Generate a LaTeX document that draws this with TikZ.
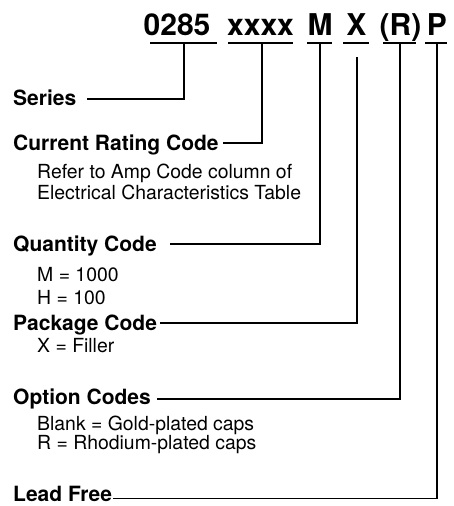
\documentclass[tikz,border=0pt]{standalone}
\usepackage{fontspec}
\setmainfont{TeX Gyre Heros}
\begin{document}
\begin{tikzpicture}[x=1pt,y=-1pt,
  code/.style={font=\fontsize{30}{30}\selectfont\bfseries,inner sep=0pt,anchor=base},
  lbl/.style={font=\fontsize{21}{21}\selectfont\bfseries,inner sep=0pt,anchor=base west},
  desc/.style={font=\fontsize{19.4}{19.4}\selectfont,inner sep=0pt,anchor=base west},
  wire/.style={line width=1.4pt},
  uline/.style={line width=1.6pt}]
\useasboundingbox (0,0) rectangle (454,506);
% header codes
\node[code] (c1) at (177,35.5) {0285};
\node[code] (c2) at (260.5,35.5) {xxxx};
\node[code] (c3) at (320,35.5) {M};
\node[code] (c4) at (356.5,35.5) {X};
\node[code] (c5) at (400.5,35.5) {(R)};
\node[code] (c6) at (437,35.5) {P};
% underlines
\draw[uline] (150,43) -- (217,43);
\draw[uline] (228,43) -- (293,43);
\draw[uline] (307,43) -- (332,43);
\draw[uline] (343,43) -- (369,43);
\draw[uline] (383,43) -- (416,43);
\draw[uline] (425,43) -- (447,43);
\coordinate (u1) at (184,43);
\coordinate (u2) at (262,43);
\coordinate (u3) at (320,43);
\coordinate (u4) at (357,57);
\coordinate (u5) at (400,43);
\coordinate (u6) at (437,43);
% labels
\node[lbl] (series) at (13,105) {Series};
\node[lbl] (current) at (13,150) {Current Rating Code};
\node[desc] (d1) at (37,178) {Refer to Amp Code column of};
\node[desc] (d2) at (37,199) {Electrical Characteristics Table};
\node[lbl] (qty) at (13,251) {Quantity Code};
\node[desc] (d3) at (37,281) {M = 1000};
\node[desc] (d4) at (37,304) {H = 100};
\node[lbl] (pkg) at (13,330) {Package Code};
\node[desc] (d5) at (37,352) {X = Filler};
\node[lbl] (opt) at (13,404) {Option Codes};
\node[desc] (d6) at (37,430) {Blank = Gold-plated caps};
\node[desc] (d7) at (37,449) {R = Rhodium-plated caps};
\node[lbl] (lead) at (13,501) {Lead Free};
% connector starts
\coordinate (s1) at (87,99);
\coordinate (s2) at (223,143);
\coordinate (s3) at (170,244);
\coordinate (s4) at (160,323);
\coordinate (s5) at (157,399);
\coordinate (s6) at (113,498.5);
\draw[wire] (s1) -| (u1);
\draw[wire] (s2) -| (u2);
\draw[wire] (s3) -| (u3);
\draw[wire] (s4) -| (u4);
\draw[wire] (s5) -| (u5);
\draw[wire] (s6) -| (u6);
\end{tikzpicture}
\end{document}
